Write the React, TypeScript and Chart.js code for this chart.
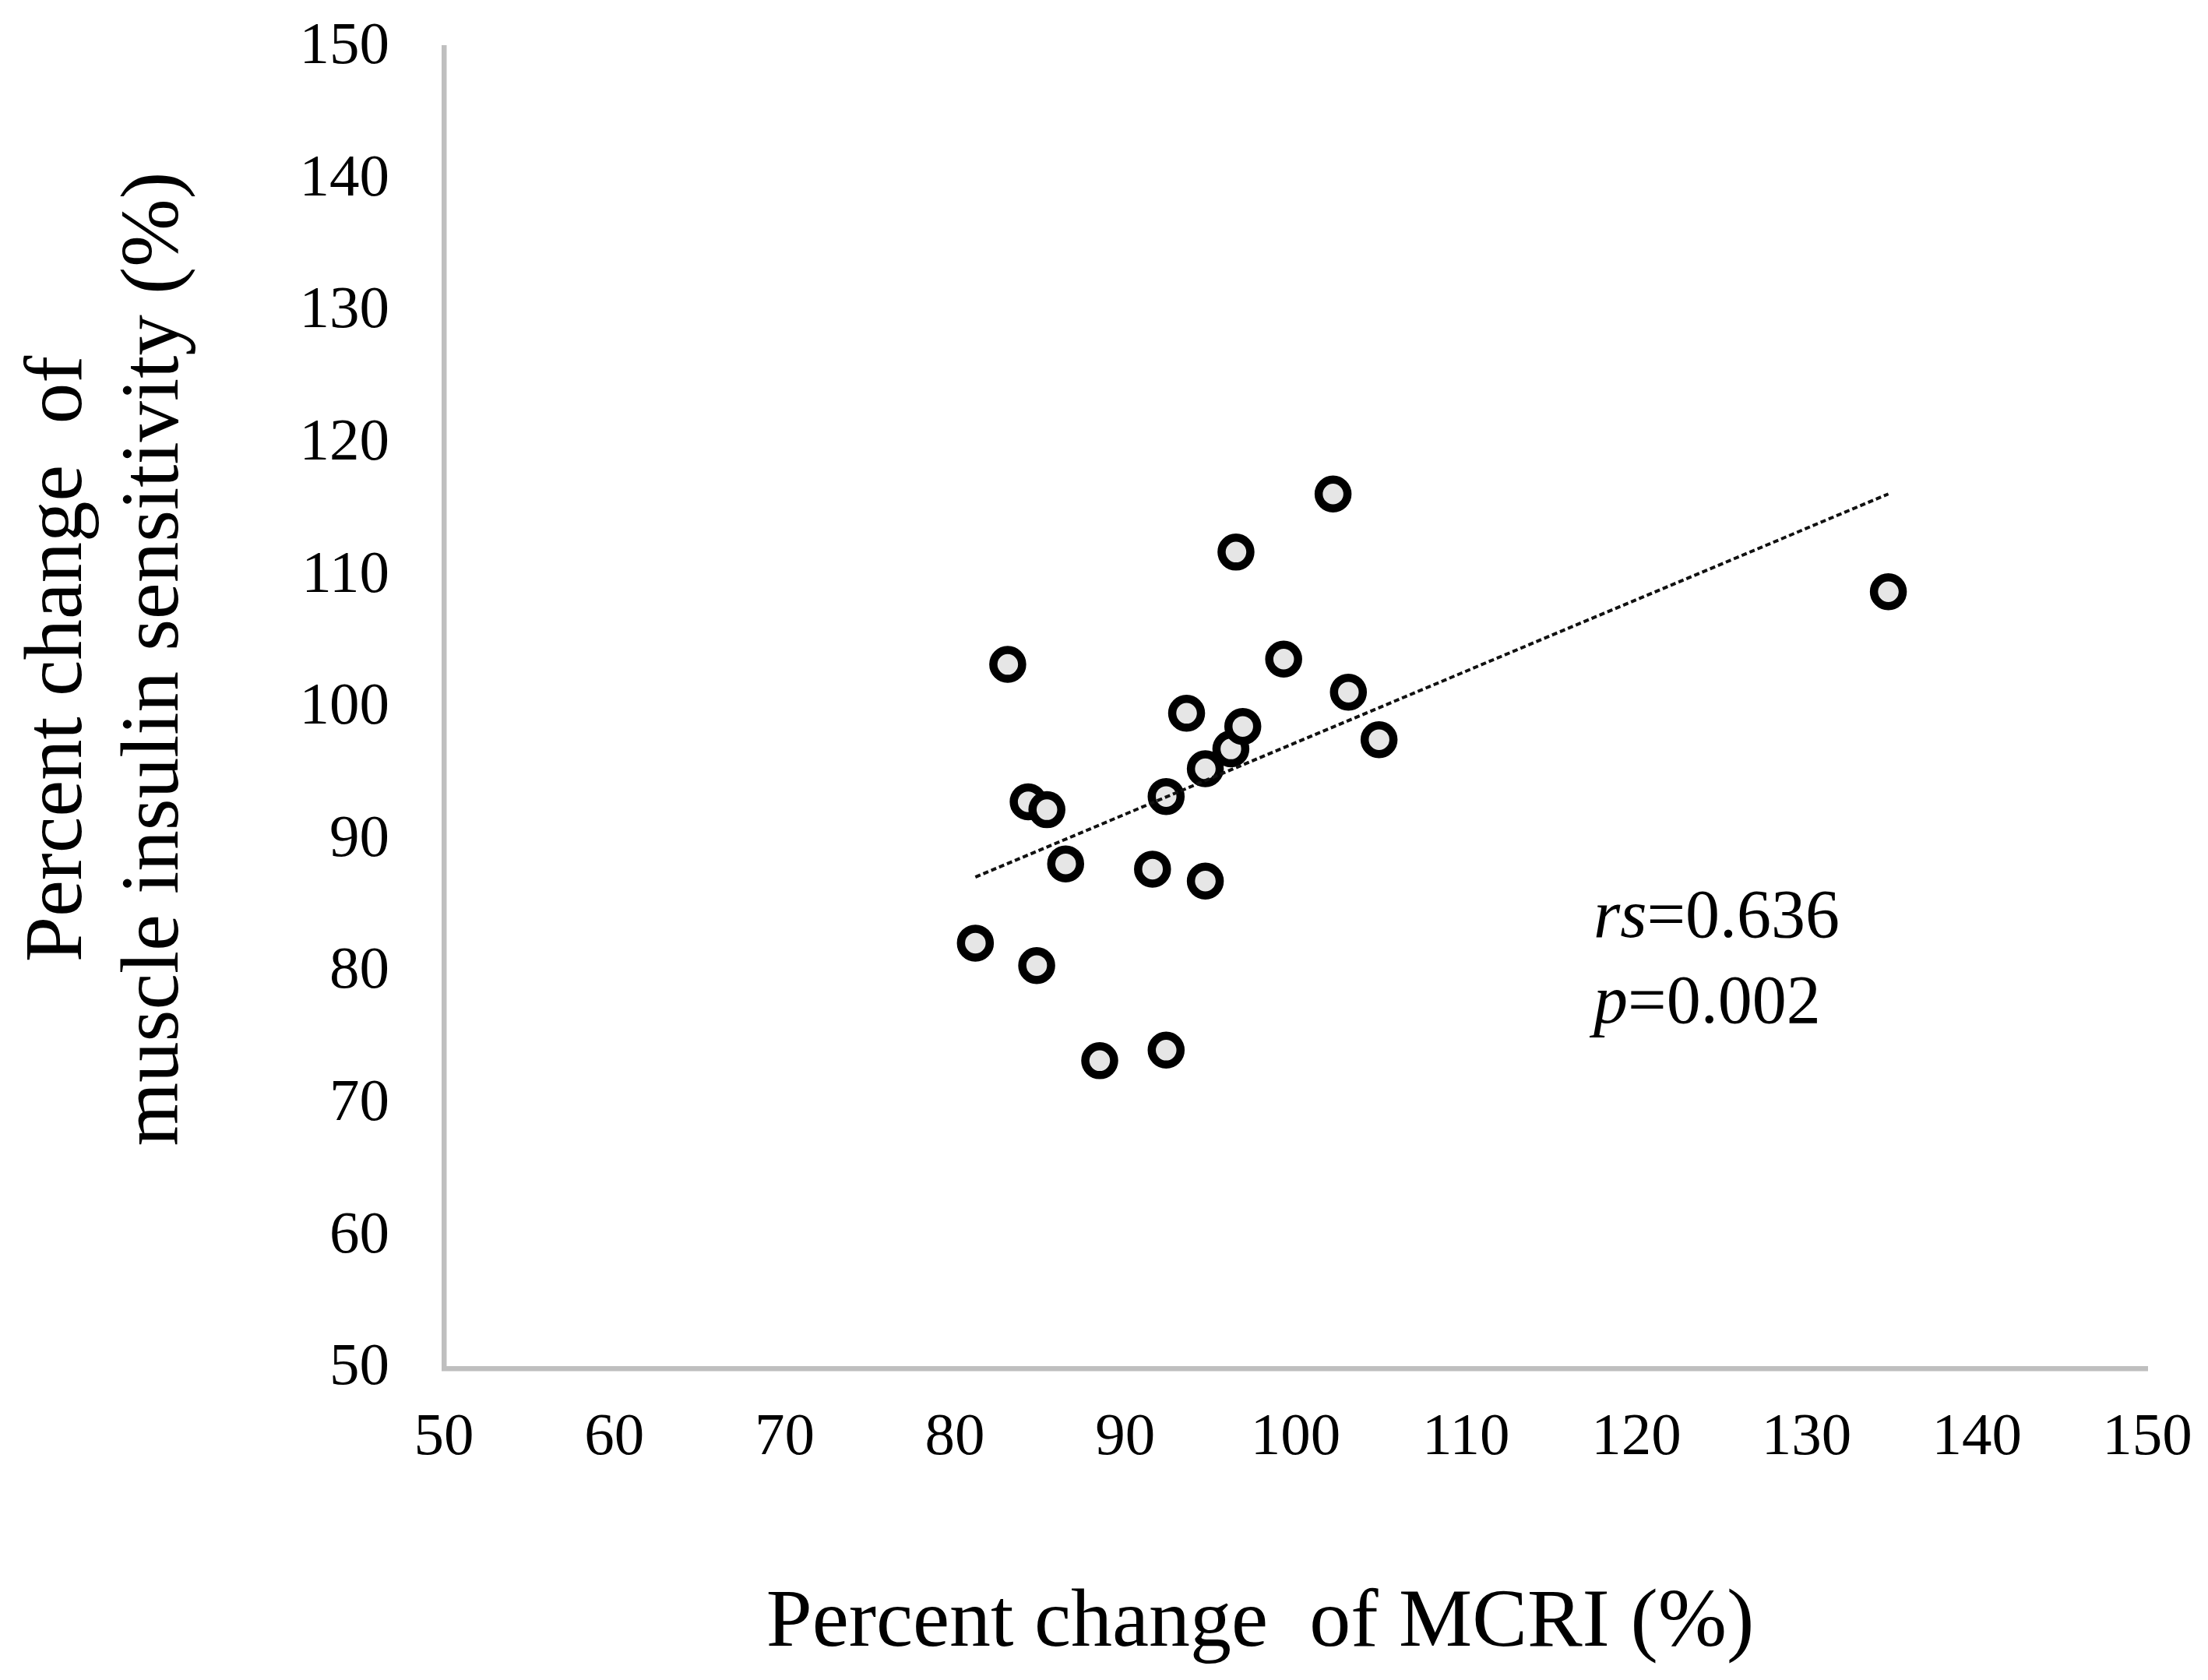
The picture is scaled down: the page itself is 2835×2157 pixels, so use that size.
import React, { useEffect, useRef } from 'react';
import { Chart, registerables } from 'chart.js';

Chart.register(...registerables);

// ---- data ----
const mcriChange = [81.2, 83.1, 84.3, 84.8, 85.4, 86.5, 88.5, 91.6, 92.4, 92.4, 93.6, 94.7, 94.7, 96.2, 96.5, 96.9, 99.3, 102.2, 103.1, 104.9, 134.8];
const insulinChange = [82.2, 103.3, 92.9, 80.5, 92.3, 88.2, 73.3, 87.8, 93.3, 74.1, 99.6, 95.4, 86.9, 96.9, 111.8, 98.6, 103.7, 116.2, 101.2, 97.6, 108.8];
const trendX = [81.2, 134.8];
const trendY = [87.2, 116.2];
const axisMin = 50;
const axisMax = 150;
const axisStep = 10;

const xTitle = 'Percent change  of MCRI (%)';
const yTitleLines = ['Percent change  of', 'muscle insulin sensitivity (%)'];
const statLines = [
  { italic: 'rs', normal: '=0.636' },
  { italic: 'p', normal: '=0.002' },
];

const SERIF = '"Liberation Serif", "Times New Roman", "DejaVu Serif", serif';

const textLayer = {
  id: 'textLayer',
  afterDraw(chart: any) {
    const { ctx, chartArea } = chart;
    ctx.save();
    ctx.fillStyle = '#000000';
    ctx.textBaseline = 'alphabetic';

    // x axis title
    ctx.font = `106px ${SERIF}`;
    ctx.textAlign = 'center';
    ctx.fillText(xTitle, chartArea.left + 1048, chartArea.bottom + 356);

    // y axis title (two lines, rotated)
    ctx.save();
    ctx.translate(104, chartArea.top + 785);
    ctx.rotate(-Math.PI / 2);
    ctx.font = `105px ${SERIF}`;
    ctx.textAlign = 'center';
    yTitleLines.forEach((line, i) => ctx.fillText(line, 0, i * 124));
    ctx.restore();

    // statistics annotation
    ctx.textAlign = 'left';
    const ax = chartArea.left + 1476;
    const ay = chartArea.top + 1142;
    statLines.forEach((s, i) => {
      const y = ay + i * 110;
      ctx.font = `italic 88px ${SERIF}`;
      ctx.fillText(s.italic, ax, y);
      const w = ctx.measureText(s.italic).width;
      ctx.font = `88px ${SERIF}`;
      ctx.fillText(s.normal, ax + w, y);
    });
    ctx.restore();
  },
};

const clearPadding = (scale: any) => {
  scale.paddingTop = 0;
  scale.paddingBottom = 0;
  scale.paddingLeft = 0;
  scale.paddingRight = 0;
};

export default function App() {
  const ref = useRef<HTMLCanvasElement>(null);

  useEffect(() => {
    document.body.style.margin = '0';
    const points = mcriChange.map((x, i) => ({ x, y: insulinChange[i] }));
    const trend = trendX.map((x, i) => ({ x, y: trendY[i] }));
    const tickFont = { family: SERIF, size: 77 };

    const chart = new Chart(ref.current as HTMLCanvasElement, {
      type: 'scatter',
      data: {
        datasets: [
          {
            type: 'line',
            label: 'Linear trend',
            data: trend,
            borderColor: '#111111',
            borderWidth: 4,
            borderDash: [7, 4],
            pointRadius: 0,
            fill: false,
            order: 0,
          } as any,
          {
            label: 'Subjects',
            data: points,
            pointRadius: 18.5,
            pointBorderWidth: 10.5,
            pointBackgroundColor: '#e6e6e6',
            pointBorderColor: '#000000',
            borderColor: '#000000',
            backgroundColor: '#e6e6e6',
            order: 1,
          },
        ],
      },
      options: {
        animation: false,
        responsive: false,
        devicePixelRatio: 1,
        layout: { padding: { top: 61, right: 78, left: 0, bottom: 0 } },
        plugins: {
          legend: { display: false },
          tooltip: { enabled: false },
          title: { display: false },
        },
        scales: {
          x: {
            type: 'linear',
            min: axisMin,
            max: axisMax,
            ticks: { stepSize: axisStep, font: tickFont, color: '#000000', padding: 44, maxRotation: 0 },
            grid: { display: false, drawTicks: false, tickLength: 0 },
            border: { display: true, color: '#bfbfbf', width: 6.5 },
            afterFit: (scale: any) => {
              scale.height = 400;
              clearPadding(scale);
            },
          },
          y: {
            type: 'linear',
            min: axisMin,
            max: axisMax,
            ticks: { stepSize: axisStep, font: tickFont, color: '#000000', padding: 70 },
            grid: { display: false, drawTicks: false, tickLength: 0 },
            border: { display: true, color: '#bfbfbf', width: 6.5 },
            afterFit: (scale: any) => {
              scale.width = 570;
              clearPadding(scale);
            },
          },
        },
      },
      plugins: [textLayer],
    });
    return () => chart.destroy();
  }, []);

  return (
    <div style={{ width: 2835, height: 2157, background: '#ffffff', overflow: 'hidden' }}>
      <canvas ref={ref} width={2835} height={2157} style={{ display: 'block', width: 2835, height: 2157 }} />
    </div>
  );
}
